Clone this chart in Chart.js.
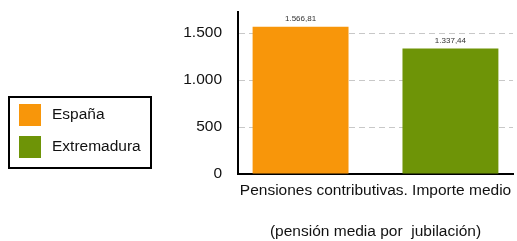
<!DOCTYPE html>
<html>
<head>
<meta charset="utf-8">
<script src="https://cdn.jsdelivr.net/npm/chart.js@4"></script>
<style>
    html, body { margin: 0; padding: 0; background: #fff; }
    #box { width: 517px; height: 241px; }
</style>
</head>
<body>
<div id="box"><canvas id="chart" width="517" height="241"></canvas></div>
<script>
const categories = ['Pensiones contributivas. Importe medio'];
const axisTitle = '(pensión media por  jubilación)';
const seriesNames = ['España', 'Extremadura'];
const espana = [1566.81];
const extremadura = [1337.44];
const yTicks = [0, 500, 1000, 1500];
const seriesColors = ['#f8960a', '#6e9407'];

const fontFamily = '"Liberation Sans", Arial, sans-serif';
const fmt = v => v.toLocaleString('es-ES', { minimumFractionDigits: 2, maximumFractionDigits: 2, useGrouping: 'always' });

// values above the bars
const valueLabels = {
    id: 'valueLabels',
    afterDatasetsDraw(chart) {
        const ctx = chart.ctx;
        ctx.save();
        ctx.font = '8px ' + fontFamily;
        ctx.fillStyle = '#333';
        ctx.textAlign = 'center';
        ctx.textBaseline = 'bottom';
        chart.data.datasets.forEach((ds, i) => {
            chart.getDatasetMeta(i).data.forEach((bar, j) => {
                ctx.fillText(fmt(ds.data[j]), bar.x, bar.y - 4);
            });
        });
        ctx.restore();
    }
};

// boxed legend on the left
const boxLegend = {
    id: 'boxLegend',
    afterDraw(chart) {
        const ctx = chart.ctx;
        ctx.save();
        ctx.strokeStyle = '#000';
        ctx.lineWidth = 2;
        ctx.strokeRect(9, 97, 142, 71);
        ctx.font = '15.5px ' + fontFamily;
        ctx.textBaseline = 'middle';
        chart.data.datasets.forEach((ds, i) => {
            const y = 104 + i * 32;
            ctx.fillStyle = ds.backgroundColor;
            ctx.fillRect(19, y, 22, 22);
            ctx.fillStyle = '#111';
            ctx.fillText(ds.label, 52, y + 11);
        });
        ctx.restore();
    }
};

new Chart(document.getElementById('chart'), {
    type: 'bar',
    data: {
        labels: categories,
        datasets: [{
            label: seriesNames[0],
            data: espana,
            backgroundColor: seriesColors[0]
        },
        {
            label: seriesNames[1],
            data: extremadura,
            backgroundColor: seriesColors[1]
        }]
    },
    options: {
        responsive: false,
        animation: false,
        layout: {
            padding: { left: 160, right: 4, top: 12, bottom: 0 }
        },
        categoryPercentage: 1.09,
        barPercentage: 0.64,
        plugins: {
            legend: { display: false },
            tooltip: { enabled: false }
        },
        scales: {
            x: {
                grid: { display: false, drawTicks: false },
                border: { color: '#000', width: 2 },
                ticks: {
                    color: '#111',
                    padding: 7,
                    font: { family: fontFamily, size: 15.5 }
                },
                title: {
                    display: true,
                    text: axisTitle,
                    color: '#111',
                    padding: { top: 16, bottom: 0 },
                    font: { family: fontFamily, size: 15.5 }
                },
                afterFit: scale => {
                    scale.height = 67;
                    scale.paddingLeft = 0;
                    scale.paddingRight = 0;
                }
            },
            y: {
                min: 0,
                max: 1725,
                border: { color: '#000', width: 2, dash: [6, 4] },
                grid: {
                    color: '#c8c8c8',
                    drawTicks: false
                },
                ticks: {
                    padding: 16,
                    color: '#111',
                    font: { family: fontFamily, size: 15.5 },
                    callback: v => v.toLocaleString('es-ES', { useGrouping: 'always' })
                },
                afterBuildTicks: scale => { scale.ticks = yTicks.map(v => ({ value: v })); },
                afterFit: scale => {
                    scale.width = 78;
                    scale.paddingTop = 0;
                    scale.paddingBottom = 0;
                }
            }
        },
        elements: { bar: { borderWidth: 0 } }
    },
    plugins: [valueLabels, boxLegend]
});
</script>
</body>
</html>
